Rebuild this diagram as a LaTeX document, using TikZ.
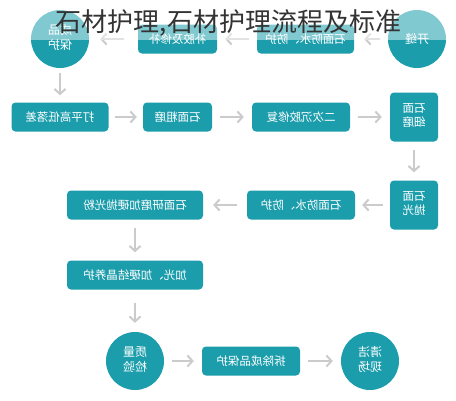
\documentclass[tikz,border=0pt]{standalone}
\usepackage{fontspec}
\setmainfont{Noto Sans CJK SC}
\usetikzlibrary{arrows.meta, positioning}
\definecolor{stoneteal}{HTML}{1B9DAC}
\definecolor{flowgray}{HTML}{CBCBCB}
\definecolor{titlegray}{HTML}{333333}
\newcommand{\flip}[1]{\reflectbox{#1}}
\newcommand{\twoline}[2]{\reflectbox{\begin{tabular}{@{}c@{}}#1\\#2\end{tabular}}}
\tikzset{
    stepbox/.style={rectangle, rounded corners=4pt, fill=stoneteal, text=white,
        minimum height=29pt, inner sep=2pt, font=\fontsize{11.5}{13}\selectfont},
    stepcircle/.style={circle, fill=stoneteal, text=white, minimum size=58pt,
        inner sep=0pt, font=\fontsize{12}{14}\selectfont},
    flow/.style={draw=flowgray, line width=2pt, -{Straight Barb[length=5pt, width=11pt]},
        shorten <=8pt, shorten >=8pt},
}

\begin{document}
\begin{tikzpicture}[x=1pt, y=-1pt]
        \useasboundingbox (0, 0) rectangle (456, 400);

        \node[stepcircle] (kaifeng) at (417, 39) {\flip{开缝}}; % start
        \node[stepbox, minimum width=97pt] (fangshuia) at (305.5, 39) {\flip{石面防水、防护}};
        \node[stepbox, minimum width=79pt] (bujiao) at (177.5, 39) {\flip{补胶及修补}};
        \node[stepcircle] (chengpin) at (60, 39) {\twoline{成品}{保护}};

        \node[stepbox, minimum width=97pt] (daping) at (60, 117) {\flip{打平高低落差}};
        \node[stepbox, minimum width=69pt] (cumo) at (177.5, 117) {\flip{石面粗磨}};
        \node[stepbox, minimum width=98pt] (erci) at (301, 117) {\flip{二次沉胶修复}};
        \node[stepbox, minimum width=48pt, minimum height=49pt] (ximo) at (414, 117) {\twoline{石面}{细磨}};

        \node[stepbox, minimum width=48pt, minimum height=49pt] (paoguang) at (414, 205) {\twoline{石面}{抛光}};
        \node[stepbox, minimum width=108pt] (fangshuib) at (301, 205) {\flip{石面防水、防护}};
        \node[stepbox, minimum width=136pt] (yanmo) at (135, 205) {\flip{石面研磨加硬抛光粉}};

        \node[stepbox, minimum width=136pt] (jiaguang) at (135, 275) {\flip{加光、加硬结晶养护}};

        \node[stepcircle] (zhiliang) at (135, 361) {\twoline{质量}{检验}};
        \node[stepbox, minimum width=98pt] (chaichu) at (251, 361) {\flip{拆除成品保护}};
        \node[stepcircle] (qingjie) at (370, 361) {\twoline{清洁}{现场}}; % end

        \draw
            (kaifeng) edge[flow, shorten >=10pt] (fangshuia)
            (fangshuia) edge[flow] (bujiao)
            (bujiao) edge[flow, shorten <=14pt, shorten >=11pt] (chengpin)
            (chengpin) edge[flow, shorten <=5pt, shorten >=7pt] (daping)
            (daping) edge[flow, shorten <=6pt, shorten >=6pt] (cumo)
            (cumo) edge[flow] (erci)
            (erci) edge[flow] (ximo)
            (ximo) edge[flow] (paoguang)
            (paoguang) edge[flow, shorten <=7pt, shorten >=7pt] (fangshuib)
            (fangshuib) edge[flow, shorten <=10pt, shorten >=10pt] (yanmo)
            (yanmo) edge[flow] (jiaguang)
            (jiaguang) edge[flow, shorten <=13pt, shorten >=9pt] (zhiliang)
            (zhiliang) edge[flow] (chaichu)
            (chaichu) edge[flow] (qingjie)
            ;

        % faded band behind the title
        \fill[white, opacity=0.45] (0, 0) rectangle (456, 40);
        \node[text=titlegray, font=\fontsize{26}{30}\selectfont, inner sep=0pt] (title) at (228.5, 23)
            {石材护理,石材护理流程及标准};
\end{tikzpicture}
\end{document}
